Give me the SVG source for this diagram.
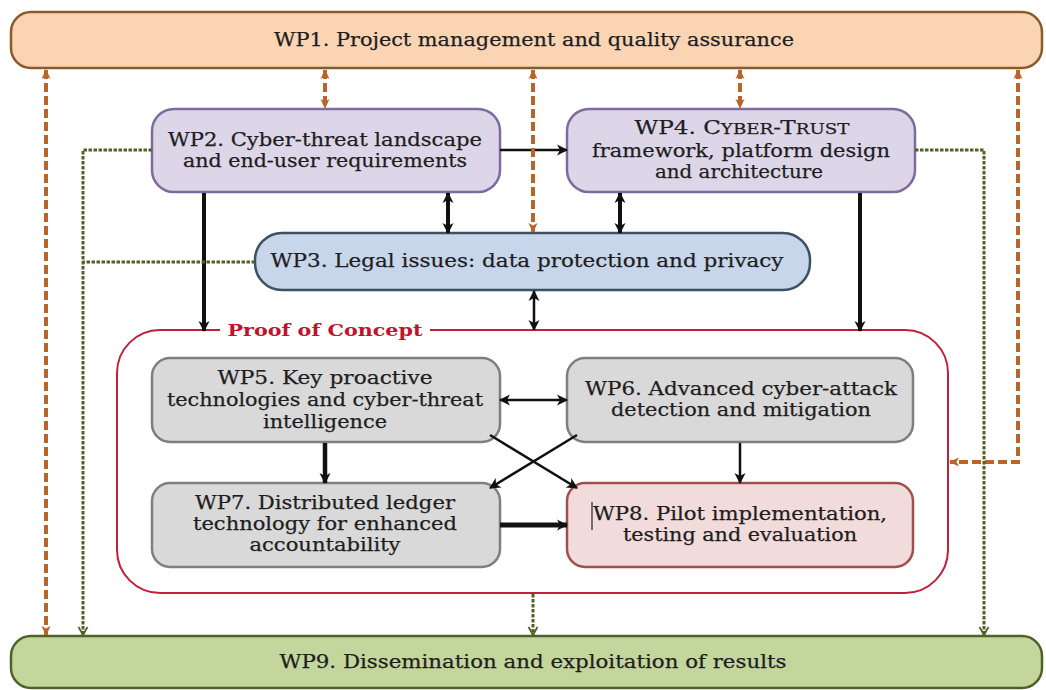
<svg xmlns="http://www.w3.org/2000/svg" width="1046" height="690" viewBox="0 0 1046 690">
<defs>
<style>
text{font-family:"DejaVu Serif","Liberation Serif",serif;font-size:19px;fill:#1e1e1e;stroke:#1e1e1e;stroke-width:0.25;text-anchor:middle}
.t18{font-size:18px}
.box{stroke-width:2.5}
.blk{stroke:#111;fill:none}
.org{stroke:#b8652c;stroke-width:4;stroke-dasharray:9 4;fill:none}
.grn{stroke:#4f6228;stroke-width:3;stroke-dasharray:3.5 1.5;fill:none}
</style>
<marker id="ab" markerUnits="userSpaceOnUse" markerWidth="14" markerHeight="14" refX="11" refY="7" orient="auto-start-reverse" viewBox="0 0 14 14"><path d="M1,1.5 L12,7 L1,12.5 L4,7 Z" fill="#111"/></marker>
<marker id="ao" markerUnits="userSpaceOnUse" markerWidth="12" markerHeight="12" refX="10" refY="6" orient="auto-start-reverse" viewBox="0 0 12 12"><path d="M1,1.5 L11,6 L1,10.5 L3.5,6 Z" fill="#b8652c"/></marker>
<marker id="ag" markerUnits="userSpaceOnUse" markerWidth="12" markerHeight="12" refX="10" refY="6" orient="auto-start-reverse" viewBox="0 0 12 12"><path d="M2,1.5 L10,6 L2,10.5" fill="none" stroke="#4f6228" stroke-width="1.8"/></marker>
</defs>
<rect width="1046" height="690" fill="#fff"/>

<g id="poc">
<rect x="117" y="330" width="831" height="263" rx="43" fill="#fff" stroke="#c0203a" stroke-width="2"/>
<rect x="220" y="320" width="210" height="20" fill="#fff"/>
<text x="325" y="336" textLength="195" lengthAdjust="spacingAndGlyphs" style="font-weight:bold;font-size:16px;fill:#c0142c;stroke:none">Proof of Concept</text>
</g>

<g id="wp1">
<rect class="box" x="11" y="12" width="1031" height="56" rx="20" fill="#fbd4b4" stroke="#8b5a2b" stroke-width="2"/>
<text x="534" y="46" textLength="520" lengthAdjust="spacingAndGlyphs">WP1. Project management and quality assurance</text>
</g>

<g id="wp2">
<rect class="box" x="152" y="109" width="348" height="83" rx="22" fill="#ddd6e9" stroke="#7d6b9e"/>
<text class="t18" x="325" y="146" textLength="314" lengthAdjust="spacingAndGlyphs">WP2. Cyber-threat landscape</text>
<text class="t18" x="325" y="167" textLength="284" lengthAdjust="spacingAndGlyphs">and end-user requirements</text>
</g>

<g id="wp4">
<rect class="box" x="567" y="109" width="348" height="83" rx="22" fill="#ddd6e9" stroke="#7d6b9e"/>
<text x="742" y="134" textLength="215" lengthAdjust="spacingAndGlyphs">WP4. C<tspan style="font-size:15px">YBER</tspan>-T<tspan style="font-size:15px">RUST</tspan></text>
<text x="741" y="157" textLength="298" lengthAdjust="spacingAndGlyphs">framework, platform design</text>
<text x="739" y="178" textLength="168" lengthAdjust="spacingAndGlyphs">and architecture</text>
</g>

<g id="wp3">
<rect class="box" x="255" y="233" width="555" height="57" rx="27" fill="#c7d6ea" stroke="#3e5064"/>
<text x="527" y="267" textLength="513" lengthAdjust="spacingAndGlyphs">WP3. Legal issues: data protection and privacy</text>
</g>

<g id="wp5">
<rect class="box" x="152" y="358" width="348" height="84" rx="18" fill="#d9d9d9" stroke="#7f7f7f"/>
<text x="325" y="384" textLength="215" lengthAdjust="spacingAndGlyphs">WP5. Key proactive</text>
<text x="325" y="406" textLength="316" lengthAdjust="spacingAndGlyphs">technologies and cyber-threat</text>
<text x="325" y="428" textLength="124" lengthAdjust="spacingAndGlyphs">intelligence</text>
</g>

<g id="wp6">
<rect class="box" x="567" y="358" width="346" height="84" rx="18" fill="#d9d9d9" stroke="#7f7f7f"/>
<text x="741" y="395" textLength="312" lengthAdjust="spacingAndGlyphs">WP6. Advanced cyber-attack</text>
<text x="741" y="416" textLength="260" lengthAdjust="spacingAndGlyphs">detection and mitigation</text>
</g>

<g id="wp7">
<rect class="box" x="152" y="483" width="348" height="84" rx="18" fill="#d9d9d9" stroke="#7f7f7f"/>
<text x="325" y="509" textLength="260" lengthAdjust="spacingAndGlyphs">WP7. Distributed ledger</text>
<text x="325" y="530" textLength="264" lengthAdjust="spacingAndGlyphs">technology for enhanced</text>
<text x="325" y="551" textLength="151" lengthAdjust="spacingAndGlyphs">accountability</text>
</g>

<g id="wp8">
<rect class="box" x="567" y="483" width="346" height="84" rx="18" fill="#f2dcdb" stroke="#a0504c"/>
<line x1="592" y1="502" x2="592" y2="530" stroke="#222" stroke-width="1.2"/>
<text class="t18" x="740" y="520" textLength="294" lengthAdjust="spacingAndGlyphs">WP8. Pilot implementation,</text>
<text class="t18" x="740" y="541" textLength="234" lengthAdjust="spacingAndGlyphs">testing and evaluation</text>
</g>

<g id="wp9">
<rect class="box" x="11" y="636" width="1031" height="52" rx="20" fill="#c3d69b" stroke="#4f6228" stroke-width="2"/>
<text x="533" y="668" textLength="507" lengthAdjust="spacingAndGlyphs">WP9. Dissemination and exploitation of results</text>
</g>

<g id="connectors">
<line class="blk" x1="500" y1="150" x2="567" y2="150" stroke-width="2.5" marker-end="url(#ab)"/>
<line class="blk" x1="448" y1="193" x2="448" y2="233" stroke-width="4" marker-start="url(#ab)" marker-end="url(#ab)"/>
<line class="blk" x1="620" y1="193" x2="620" y2="233" stroke-width="4" marker-start="url(#ab)" marker-end="url(#ab)"/>
<line class="blk" x1="204" y1="193" x2="204" y2="331" stroke-width="4" marker-end="url(#ab)"/>
<line class="blk" x1="860" y1="193" x2="860" y2="331" stroke-width="4" marker-end="url(#ab)"/>
<line class="blk" x1="534" y1="291" x2="534" y2="330" stroke-width="2.5" marker-start="url(#ab)" marker-end="url(#ab)"/>
<line class="blk" x1="500" y1="400" x2="567" y2="400" stroke-width="2.5" marker-start="url(#ab)" marker-end="url(#ab)"/>
<line class="blk" x1="325" y1="443" x2="325" y2="483" stroke-width="4.5" marker-end="url(#ab)"/>
<line class="blk" x1="740" y1="443" x2="740" y2="483" stroke-width="2.5" marker-end="url(#ab)"/>
<line class="blk" x1="500" y1="525" x2="567" y2="525" stroke-width="5" marker-end="url(#ab)"/>
<line class="blk" x1="490" y1="435" x2="577" y2="488" stroke-width="2.5" marker-end="url(#ab)"/>
<line class="blk" x1="577" y1="435" x2="490" y2="488" stroke-width="2.5" marker-end="url(#ab)"/>

<line class="org" x1="46" y1="70" x2="46" y2="635" marker-start="url(#ao)" marker-end="url(#ao)"/>
<line class="org" x1="325" y1="70" x2="325" y2="108" marker-start="url(#ao)" marker-end="url(#ao)"/>
<line class="org" x1="533" y1="70" x2="533" y2="232" marker-start="url(#ao)" marker-end="url(#ao)"/>
<line class="org" x1="740" y1="70" x2="740" y2="108" marker-start="url(#ao)" marker-end="url(#ao)"/>
<path class="org" d="M1018,70 V462 H950" marker-start="url(#ao)" marker-end="url(#ao)"/>

<path class="grn" d="M152,150 H83 V635" marker-end="url(#ag)"/>
<path class="grn" d="M255,262 H83"/>
<path class="grn" d="M915,150 H984 V635" marker-end="url(#ag)"/>
<line class="grn" x1="533" y1="594" x2="533" y2="635" marker-end="url(#ag)"/>
</g>
</svg>
